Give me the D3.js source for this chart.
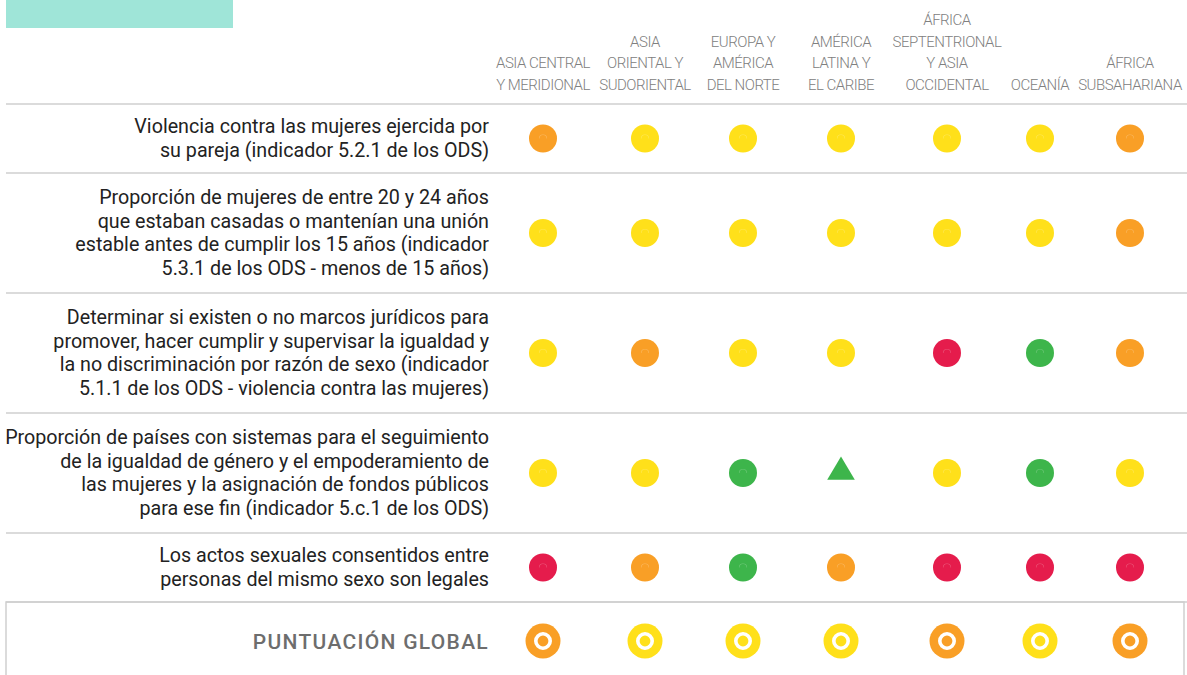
<!DOCTYPE html>
<html><head><meta charset="utf-8">
<script src="https://cdn.jsdelivr.net/npm/d3@7"></script>
<style>
html,body{margin:0;padding:0;background:#fff;}
svg{display:block;}
</style></head>
<body>
<svg id="chart" width="1187" height="675"></svg>
<script>
const regions = [
  ["ASIA CENTRAL", "Y MERIDIONAL"],
  ["ASIA", "ORIENTAL Y", "SUDORIENTAL"],
  ["EUROPA Y", "AMÉRICA", "DEL NORTE"],
  ["AMÉRICA", "LATINA Y", "EL CARIBE"],
  ["ÁFRICA", "SEPTENTRIONAL", "Y ASIA", "OCCIDENTAL"],
  ["OCEANÍA"],
  ["ÁFRICA", "SUBSAHARIANA"]
];
const indicators = [
  ["Violencia contra las mujeres ejercida por", "su pareja (indicador 5.2.1 de los ODS)"],
  ["Proporción de mujeres de entre 20 y 24 años", "que estaban casadas o mantenían una unión", "estable antes de cumplir los 15 años (indicador", "5.3.1 de los ODS - menos de 15 años)"],
  ["Determinar si existen o no marcos jurídicos para", "promover, hacer cumplir y supervisar la igualdad y", "la no discriminación por razón de sexo (indicador", "5.1.1 de los ODS - violencia contra las mujeres)"],
  ["Proporción de países con sistemas para el seguimiento", "de la igualdad de género y el empoderamiento de", "las mujeres y la asignación de fondos públicos", "para ese fin (indicador 5.c.1 de los ODS)"],
  ["Los actos sexuales consentidos entre", "personas del mismo sexo son legales"]
];
// status per indicator row, one per region
const row1 = ["orange", "yellow", "yellow", "yellow", "yellow", "yellow", "orange"];
const row2 = ["yellow", "yellow", "yellow", "yellow", "yellow", "yellow", "orange"];
const row3 = ["yellow", "orange", "yellow", "yellow", "red", "green", "orange"];
const row4 = ["yellow", "yellow", "green", "green-up", "yellow", "green", "yellow"];
const row5 = ["red", "orange", "green", "orange", "red", "red", "red"];
const globalScore = ["orange", "yellow", "yellow", "yellow", "orange", "yellow", "orange"];
const globalLabel = "PUNTUACIÓN GLOBAL";

const rows = [row1, row2, row3, row4, row5];
const colour = d3.scaleOrdinal()
  .domain(["red", "orange", "yellow", "green", "green-up"])
  .range(["#e51c4c", "#f99f26", "#ffe01a", "#3db54b", "#3db54b"]);

const svg = d3.select("#chart");
const font = "Roboto, 'Noto Sans', sans-serif";

// teal tab
svg.append("rect").attr("x", 6).attr("y", 0).attr("width", 227).attr("height", 28).attr("fill", "#9fe5d8");

// column positions
const colCenters = [543, 645, 743, 841, 947, 1040, 1130];
const x = d3.scaleOrdinal().domain(d3.range(regions.length)).range(colCenters);

// header
const hdrLine = 21.4;
regions.forEach((lines, i) => {
  const t = svg.append("text")
    .attr("x", x(i)).attr("text-anchor", "middle")
    .attr("font-family", font).attr("font-size", 15).attr("font-weight", 300)
    .attr("fill", "#808080").attr("letter-spacing", -0.5);
  lines.forEach((l, j) => {
    t.append("tspan").attr("x", x(i))
      .attr("y", 89.5 - (lines.length - 1 - j) * hdrLine).text(l);
  });
});

// rows layout
const tableTop = 104;
const heights = indicators.map(l => 18 + 25.5 * l.length);
const bounds = [tableTop];
heights.forEach(h => bounds.push(bounds[bounds.length - 1] + h));

const lineColor = "#cfcfcf";
bounds.forEach(b => {
  svg.append("line").attr("x1", 6).attr("x2", 1187).attr("y1", b).attr("y2", b)
    .attr("stroke", lineColor).attr("stroke-width", 1.5);
});

const labelLine = 23.7;
indicators.forEach((lines, r) => {
  const cy = (bounds[r] + bounds[r + 1]) / 2;
  const t = svg.append("text").attr("text-anchor", "end")
    .attr("font-family", font).attr("font-size", 19.7).attr("fill", "#222");
  lines.forEach((l, j) => {
    t.append("tspan").attr("x", 489)
      .attr("y", cy + (j - (lines.length - 1) / 2) * labelLine + 6.5).text(l);
  });
  const g = svg.append("g");
  rows[r].forEach((s, i) => {
    if (s === "green-up") {
      const tri = d3.symbol().type(d3.symbolTriangle).size(330);
      g.append("path").attr("d", tri())
        .attr("transform", `translate(${x(i)},${cy - 1}) scale(1,0.98)`)
        .attr("fill", colour(s));
    } else {
      g.append("circle").attr("cx", x(i)).attr("cy", cy).attr("r", 14).attr("fill", colour(s));
      g.append("path")
        .attr("d", d3.arc()({innerRadius: 3.5, outerRadius: 4.1, startAngle: -Math.PI / 2, endAngle: Math.PI / 2}))
        .attr("transform", `translate(${x(i)},${cy})`)
        .attr("fill", "#fff").attr("opacity", 0.25);
    }
  });
});

// global box
const gTop = bounds[bounds.length - 1];
svg.append("path")
  .attr("d", `M6,675 L6,${gTop} L1184,${gTop} L1184,675`)
  .attr("fill", "none").attr("stroke", lineColor).attr("stroke-width", 1.5);
const gy = gTop + 39;
svg.append("text").attr("x", 489).attr("y", gy + 7.5).attr("text-anchor", "end")
  .attr("font-family", font).attr("font-size", 21).attr("font-weight", 500)
  .attr("letter-spacing", 1.3).attr("fill", "#6d6d6d").text(globalLabel);
globalScore.forEach((s, i) => {
  svg.append("circle").attr("cx", x(i)).attr("cy", gy).attr("r", 17.5).attr("fill", colour(s));
  svg.append("circle").attr("cx", x(i)).attr("cy", gy).attr("r", 7.2)
    .attr("fill", "none").attr("stroke", "#fff").attr("stroke-width", 3.6);
});
</script>
</body></html>
